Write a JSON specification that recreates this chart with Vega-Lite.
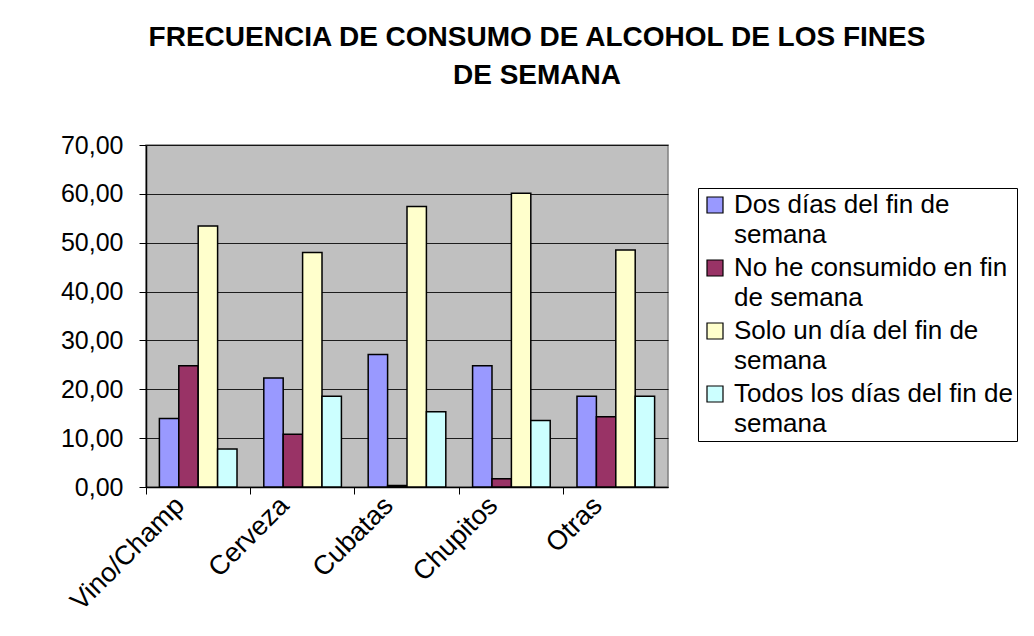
{
  "$schema": "https://vega.github.io/schema/vega-lite/v6.json",
  "width": 522,
  "height": 342,
  "autosize": "none",
  "padding": {"left": 146, "top": 145, "right": 366, "bottom": 149},
  "background": "white",
  "title": {
    "text": ["FRECUENCIA DE CONSUMO DE ALCOHOL DE LOS FINES", "DE SEMANA"],
    "anchor": "middle",
    "frame": "group",
    "dx": 130,
    "offset": 43,
    "font": "Liberation Sans",
    "fontSize": 28,
    "fontWeight": "bold",
    "lineHeight": 38,
    "color": "black"
  },
  "data": {
    "values": [
      {"bebida": "Vino/Champán", "frecuencia": "Dos días del fin de semana", "valor": 14.0},
      {"bebida": "Vino/Champán", "frecuencia": "No he consumido en fin de semana", "valor": 24.8},
      {"bebida": "Vino/Champán", "frecuencia": "Solo un día del fin de semana", "valor": 53.4},
      {"bebida": "Vino/Champán", "frecuencia": "Todos los días del fin de semana", "valor": 7.8},
      {"bebida": "Cerveza", "frecuencia": "Dos días del fin de semana", "valor": 22.3},
      {"bebida": "Cerveza", "frecuencia": "No he consumido en fin de semana", "valor": 10.8},
      {"bebida": "Cerveza", "frecuencia": "Solo un día del fin de semana", "valor": 48.0},
      {"bebida": "Cerveza", "frecuencia": "Todos los días del fin de semana", "valor": 18.6},
      {"bebida": "Cubatas", "frecuencia": "Dos días del fin de semana", "valor": 27.1},
      {"bebida": "Cubatas", "frecuencia": "No he consumido en fin de semana", "valor": 0.3},
      {"bebida": "Cubatas", "frecuencia": "Solo un día del fin de semana", "valor": 57.4},
      {"bebida": "Cubatas", "frecuencia": "Todos los días del fin de semana", "valor": 15.4},
      {"bebida": "Chupitos", "frecuencia": "Dos días del fin de semana", "valor": 24.8},
      {"bebida": "Chupitos", "frecuencia": "No he consumido en fin de semana", "valor": 1.7},
      {"bebida": "Chupitos", "frecuencia": "Solo un día del fin de semana", "valor": 60.1},
      {"bebida": "Chupitos", "frecuencia": "Todos los días del fin de semana", "valor": 13.6},
      {"bebida": "Otras", "frecuencia": "Dos días del fin de semana", "valor": 18.6},
      {"bebida": "Otras", "frecuencia": "No he consumido en fin de semana", "valor": 14.4},
      {"bebida": "Otras", "frecuencia": "Solo un día del fin de semana", "valor": 48.5},
      {"bebida": "Otras", "frecuencia": "Todos los días del fin de semana", "valor": 18.6}
    ]
  },
  "mark": {"type": "bar", "stroke": "black", "strokeWidth": 1.5},
  "encoding": {
    "x": {
      "field": "bebida",
      "type": "nominal",
      "sort": null,
      "title": null,
      "scale": {"paddingInner": 0, "paddingOuter": 0},
      "axis": {
        "bandPosition": 0,
        "labelOffset": -18,
        "labelAngle": -45,
        "labelAlign": "right",
        "labelBaseline": "middle",
        "labelFont": "Liberation Sans",
        "labelFontSize": 27,
        "labelColor": "black",
        "labelPadding": 7,
        "labelExpr": "datum.label == 'Vino/Champán' ? 'Vino/Champ' : datum.label",
        "tickSize": 7,
        "tickColor": "black",
        "domainColor": "black",
        "domainWidth": 1.5,
        "grid": false
      }
    },
    "xOffset": {
      "field": "frecuencia",
      "type": "nominal",
      "scale": {"paddingInner": 0, "paddingOuter": 0.69}
    },
    "y": {
      "field": "valor",
      "type": "quantitative",
      "title": null,
      "scale": {"domain": [0, 70], "nice": false},
      "axis": {
        "values": [0, 10, 20, 30, 40, 50, 60, 70],
        "labelExpr": "replace(format(datum.value, '.2f'), '.', ',')",
        "labelFont": "Liberation Sans",
        "labelFontSize": 25,
        "labelColor": "black",
        "labelPadding": 16,
        "tickSize": 7,
        "tickColor": "black",
        "domainColor": "black",
        "domainWidth": 1.5,
        "grid": true,
        "gridColor": "black",
        "gridWidth": 1,
        "gridOpacity": 0.85
      }
    },
    "color": {
      "field": "frecuencia",
      "type": "nominal",
      "scale": {"range": ["#9999FF", "#993366", "#FFFFCC", "#CCFFFF"]},
      "legend": {
        "orient": "none",
        "legendX": 552,
        "legendY": 43,
        "title": null,
        "strokeColor": "black",
        "fillColor": "white",
        "padding": 4,
        "labelFont": "Liberation Sans",
        "labelFontSize": 26,
        "labelColor": "black",
        "labelLimit": 400,
        "labelOffset": 6,
        "labelBaseline": "middle",
        "symbolType": "square",
        "symbolSize": 256,
        "symbolStrokeColor": "black",
        "symbolStrokeWidth": 1.2,
        "symbolOpacity": 1,
        "rowPadding": 7,
        "labelExpr": "datum.label == 'Dos días del fin de semana' ? ['Dos días del fin de', 'semana'] : datum.label == 'No he consumido en fin de semana' ? ['No he consumido en fin', 'de semana'] : datum.label == 'Solo un día del fin de semana' ? ['Solo un día del fin de', 'semana'] : ['Todos los días del fin de', 'semana']"
      }
    }
  },
  "config": {
    "view": {"fill": "#C0C0C0", "stroke": "#808080", "strokeWidth": 1.5},
    "style": {"guide-label": {"lineHeight": 30}}
  }
}
